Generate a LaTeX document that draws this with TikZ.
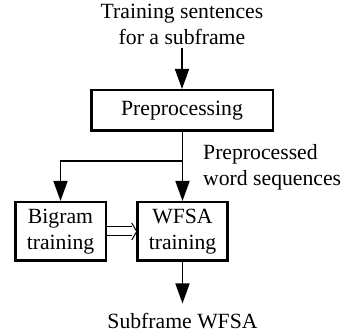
\documentclass[tikz,border=0pt]{standalone}
\usepackage{fontspec}
\setmainfont{Liberation Serif}
\usetikzlibrary{arrows.meta}
\begin{document}
\begin{tikzpicture}[x=1pt,y=-1pt,
  every node/.style={font=\fontsize{21.7pt}{26pt}\selectfont},
  procbox/.style={draw, line width=2.5pt, inner sep=0pt, align=center},
  flow/.style={line width=1.6pt, -{Triangle[length=20pt,width=14pt]}},
  plain/.style={line width=1.6pt},
  hollow/.style={line width=1pt, miter limit=10}]
\useasboundingbox (0,0) rectangle (346,334);
\node[align=center, inner xsep=0pt, inner ysep=4pt] (src) at (182,24) {Training sentences\\for a subframe};
\node[procbox, minimum width=181.5pt, minimum height=40.5pt] (pre) at (182,110.5) {Preprocessing};
\node[procbox, minimum width=90.5pt, minimum height=58.5pt] (big) at (60.5,231.5) {Bigram\\training};
\node[procbox, minimum width=90pt, minimum height=58.5pt] (wfsa) at (182.5,231.5) {WFSA\\training};
\node[align=left, anchor=north west, inner sep=0pt] (lab) at (203,144) {Preprocessed\\word sequences};
\node[inner xsep=0pt, inner ysep=9.5pt] (out) at (182.5,321) {Subframe WFSA};
\coordinate (j) at (182.5,161);
\draw[flow] (src.south -| pre.north) -- (pre.north);
\draw[flow] (pre.south -| wfsa.north) -- (wfsa.north);
\draw[flow] (j) -| (big.north);
\draw[flow] (wfsa.south) -- (out.north);
\draw[hollow] ([yshift=4.5pt]big.east) -- ([xshift=-4pt,yshift=4.5pt]wfsa.west);
\draw[hollow] ([yshift=-4.5pt]big.east) -- ([xshift=-4pt,yshift=-4.5pt]wfsa.west);
\draw[hollow] ([xshift=-4.5pt,yshift=8.5pt]wfsa.west) -- ([xshift=0.5pt]wfsa.west) -- ([xshift=-4.5pt,yshift=-8.5pt]wfsa.west);
\end{tikzpicture}
\end{document}
